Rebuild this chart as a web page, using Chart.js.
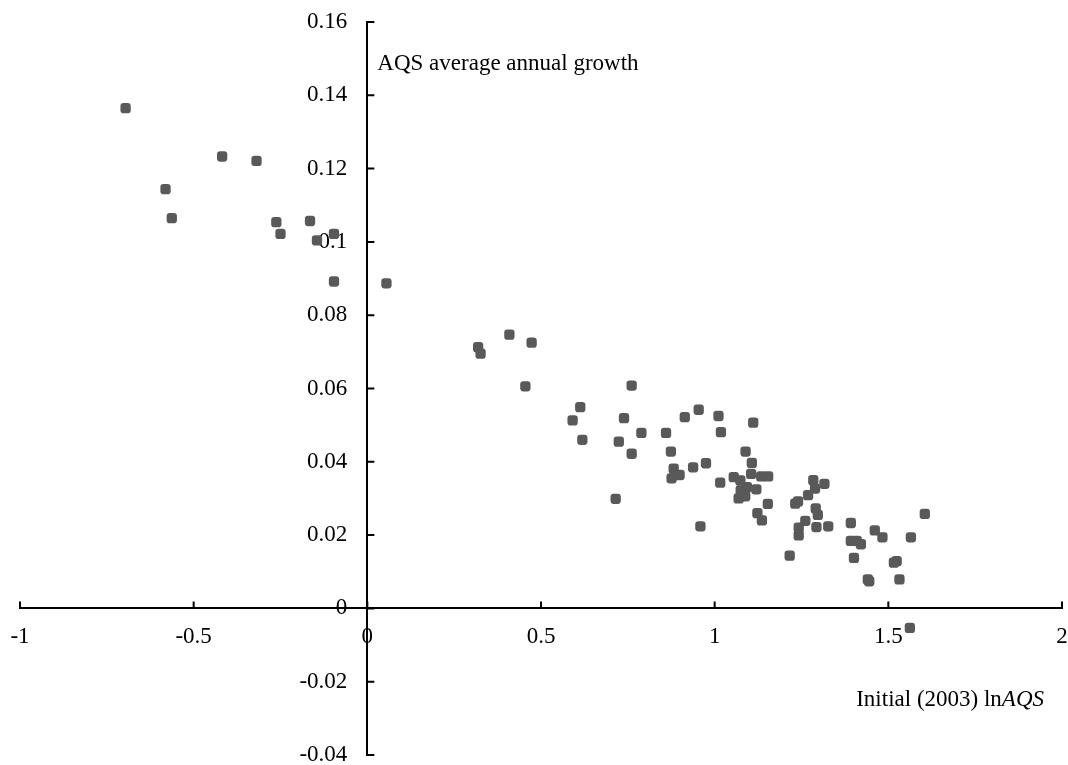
<!DOCTYPE html>
<html>
<head>
<meta charset="utf-8">
<script src="https://cdn.jsdelivr.net/npm/chart.js@4.4.1/dist/chart.umd.min.js"></script>
<style>
  html, body { margin: 0; padding: 0; background: #fff; }
  #wrap { width: 1068px; height: 765px; }
</style>
</head>
<body>
<div id="wrap"><canvas id="growth-chart"></canvas></div>
<script>
// values
const lnAqs = [
  -0.696, -0.581, -0.563, -0.418, -0.319, -0.262, -0.250, -0.165, -0.145, -0.096,
  -0.096, 0.055, 0.319, 0.326, 0.409, 0.473, 0.455, 0.761, 0.613, 0.591,
  0.739, 0.619, 0.789, 0.860, 0.914, 0.954, 1.011, 1.018, 1.111, 0.724,
  0.761, 0.874, 0.882, 0.899, 0.876, 0.938, 0.975, 1.016, 0.715, 0.959,
  1.055, 1.074, 1.105, 1.134, 1.154, 1.093, 1.120, 1.069, 1.088, 1.153,
  1.123, 1.136, 1.089, 1.107, 1.075, 1.284, 1.316, 1.289, 1.269, 1.240,
  1.232, 1.291, 1.297, 1.261, 1.242, 1.242, 1.293, 1.327, 1.216, 1.392,
  1.461, 1.483, 1.565, 1.605, 1.392, 1.409, 1.421, 1.401, 1.524, 1.516,
  1.441, 1.445, 1.532, 1.562
];
const growth = [
  0.1365, 0.1144, 0.1065, 0.1233, 0.1221, 0.1054, 0.1022, 0.1057, 0.1004, 0.1022,
  0.0892, 0.0887, 0.0713, 0.0695, 0.0747, 0.0725, 0.0606, 0.0608, 0.0549, 0.0513,
  0.0519, 0.0460, 0.0479, 0.0479, 0.0522, 0.0542, 0.0525, 0.0481, 0.0507, 0.0455,
  0.0422, 0.0428, 0.0381, 0.0364, 0.0355, 0.0385, 0.0396, 0.0343, 0.0299, 0.0224,
  0.0358, 0.0349, 0.0367, 0.0360, 0.0360, 0.0331, 0.0325, 0.0300, 0.0306, 0.0285,
  0.0260, 0.0240, 0.0428, 0.0397, 0.0322, 0.0350, 0.0340, 0.0327, 0.0309, 0.0292,
  0.0286, 0.0273, 0.0255, 0.0239, 0.0220, 0.0199, 0.0222, 0.0224, 0.0144, 0.0233,
  0.0213, 0.0194, 0.0194, 0.0258, 0.0184, 0.0184, 0.0175, 0.0138, 0.0129, 0.0125,
  0.0079, 0.0074, 0.0079, -0.0053
];
const xTicks = [-1, -0.5, 0, 0.5, 1, 1.5, 2];
const yTicks = [-0.04, -0.02, 0, 0.02, 0.04, 0.06, 0.08, 0.1, 0.12, 0.14, 0.16];
const yTitle = "AQS average annual growth";
const xTitleText = "Initial (2003) ln";
const xTitleItalic = "AQS";

const FONT = '"Liberation Serif", "Times New Roman", serif';
const FONT_SIZE = 23;

const points = lnAqs.map((x, i) => ({ x: x, y: growth[i] }));

const fmt = v => String(+Number(v).toFixed(2));

// axes cross at zero: inward ticks, labels and titles drawn against the scales
const axisDecor = {
  id: "axisDecor",
  beforeDatasetsDraw(chart) {
    const { ctx, chartArea, scales: { x, y } } = chart;
    const x0 = x.getPixelForValue(0);
    const y0 = y.getPixelForValue(0);

    ctx.save();
    ctx.strokeStyle = "#000";
    ctx.lineWidth = 2;
    ctx.beginPath();
    x.ticks.forEach(t => {
      const px = x.getPixelForValue(t.value);
      ctx.moveTo(px, y0);
      ctx.lineTo(px, y0 - 7);
    });
    y.ticks.forEach(t => {
      const py = y.getPixelForValue(t.value);
      ctx.moveTo(x0, py);
      ctx.lineTo(x0 + 7, py);
    });
    ctx.stroke();

    ctx.fillStyle = "#000";
    ctx.font = FONT_SIZE + "px " + FONT;
    ctx.textBaseline = "middle";

    ctx.textAlign = "center";
    x.ticks.forEach(t => {
      ctx.fillText(fmt(t.value), x.getPixelForValue(t.value), y0 + 29);
    });

    ctx.textAlign = "right";
    y.ticks.forEach(t => {
      ctx.fillText(fmt(t.value), x0 - 20, y.getPixelForValue(t.value));
    });

    ctx.textBaseline = "alphabetic";
    ctx.textAlign = "left";
    ctx.fillText(yTitle, x0 + 10, chartArea.top + 48);

    const right = chartArea.right - 18;
    const base = y.getPixelForValue(-0.0265);
    ctx.font = "italic " + FONT_SIZE + "px " + FONT;
    const wItal = ctx.measureText(xTitleItalic).width;
    ctx.textAlign = "right";
    ctx.fillText(xTitleItalic, right, base);
    ctx.font = FONT_SIZE + "px " + FONT;
    ctx.fillText(xTitleText, right - wItal, base);
    ctx.restore();
  }
};

new Chart(document.getElementById("growth-chart"), {
  type: "scatter",
  data: {
    datasets: [{
      data: points,
      pointStyle: "rectRounded",
      pointRadius: 6,
      pointHoverRadius: 6,
      backgroundColor: "#595959",
      borderColor: "#595959",
      borderWidth: 0
    }]
  },
  options: {
    responsive: true,
    maintainAspectRatio: false,
    animation: false,
    layout: { padding: { left: 20, right: 4, top: 22, bottom: 10 } },
    plugins: { legend: { display: false }, tooltip: { enabled: false } },
    scales: {
      x: {
        type: "linear",
        min: -1,
        max: 2,
        position: { y: 0 },
        afterBuildTicks: s => { s.ticks = xTicks.map(v => ({ value: v })); },
        afterFit: s => { s.height = 0; },
        grid: { display: false, drawTicks: false },
        border: { display: true, color: "#000", width: 2 },
        ticks: { display: false }
      },
      y: {
        type: "linear",
        min: -0.04,
        max: 0.16,
        position: { x: 0 },
        afterBuildTicks: s => { s.ticks = yTicks.map(v => ({ value: v })); },
        afterFit: s => { s.width = 0; },
        grid: { display: false, drawTicks: false },
        border: { display: true, color: "#000", width: 2 },
        ticks: { display: false }
      }
    }
  },
  plugins: [axisDecor]
});
</script>
</body>
</html>
